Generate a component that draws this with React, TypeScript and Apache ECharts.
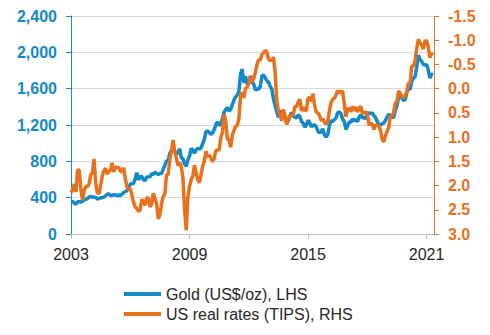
import React, { useEffect, useRef } from "react";
import * as echarts from "echarts";

// Monthly data, Jan 2003 .. May 2021
const startYear = 2003;
const goldUSDperOz: number[] = [
  // 2003
  357, 359, 341, 328, 356, 356, 351, 360, 379, 379, 390, 408,
  // 2004
  414, 405, 406, 404, 384, 392, 398, 400, 406, 420, 439, 442,
  // 2005
  424, 423, 434, 429, 422, 430, 424, 438, 456, 470, 476, 510,
  // 2006
  549, 555, 557, 610, 676, 596, 633, 632, 598, 585, 627, 629,
  // 2007
  631, 665, 655, 679, 667, 655, 665, 665, 712, 754, 806, 803,
  // 2008
  889, 922, 968, 909, 888, 889, 939, 839, 829, 770, 745, 816,
  // 2009
  858, 943, 924, 890, 928, 945, 934, 949, 996, 1043, 1127, 1134,
  // 2010
  1118, 1095, 1113, 1148, 1205, 1233, 1193, 1215, 1271, 1342, 1370, 1391,
  // 2011
  1356, 1372, 1424, 1474, 1510, 1529, 1572, 1760, 1815, 1665, 1739, 1652,
  // 2012
  1656, 1742, 1674, 1650, 1585, 1596, 1594, 1626, 1745, 1747, 1721, 1685,
  // 2013
  1671, 1627, 1593, 1485, 1414, 1343, 1286, 1347, 1349, 1316, 1275, 1225,
  // 2014
  1244, 1300, 1336, 1299, 1287, 1279, 1311, 1296, 1239, 1222, 1176, 1201,
  // 2015
  1251, 1227, 1179, 1198, 1199, 1181, 1131, 1117, 1125, 1159, 1086, 1068,
  // 2016
  1097, 1200, 1246, 1242, 1260, 1276, 1337, 1341, 1326, 1266, 1238, 1151,
  // 2017
  1192, 1234, 1231, 1266, 1246, 1260, 1236, 1283, 1314, 1280, 1282, 1265,
  // 2018
  1331, 1331, 1325, 1335, 1303, 1282, 1238, 1202, 1199, 1215, 1221, 1250,
  // 2019
  1291, 1320, 1300, 1285, 1284, 1359, 1413, 1500, 1510, 1495, 1471, 1480,
  // 2020
  1560, 1597, 1592, 1681, 1716, 1732, 1840, 1968, 1921, 1900, 1866, 1858,
  // 2021
  1867, 1808, 1715, 1760, 1755,
];

const usRealRatesTIPS: number[] = [
  // 2003
  2.15, 2.08, 1.97, 2.13, 1.68, 1.68, 2.07, 2.3, 2.1, 2.02, 2.02, 1.97,
  // 2004
  1.78, 1.73, 1.45, 1.94, 2.15, 2.17, 2.0, 1.8, 1.69, 1.64, 1.76, 1.72,
  // 2005
  1.68, 1.53, 1.72, 1.61, 1.63, 1.62, 1.71, 1.71, 1.63, 1.86, 2.03, 2.09,
  // 2006
  2.06, 2.2, 2.35, 2.44, 2.47, 2.53, 2.51, 2.29, 2.32, 2.41, 2.26, 2.25,
  // 2007
  2.44, 2.39, 2.16, 2.26, 2.37, 2.69, 2.6, 2.38, 2.23, 2.17, 1.78, 1.76,
  // 2008
  1.48, 1.29, 1.06, 1.29, 1.43, 1.59, 1.52, 1.61, 1.84, 2.5, 2.92, 2.24,
  // 2009
  2.01, 1.88, 1.8, 1.58, 1.73, 1.88, 1.94, 1.78, 1.6, 1.49, 1.29, 1.41,
  // 2010
  1.37, 1.43, 1.51, 1.44, 1.28, 1.27, 1.26, 1.02, 0.91, 0.53, 0.67, 1.04,
  // 2011
  1.06, 1.21, 0.96, 0.86, 0.78, 0.76, 0.62, 0.14, 0.08, 0.19, 0.0, -0.03,
  // 2012
  -0.11, -0.25, -0.14, -0.21, -0.34, -0.5, -0.6, -0.59, -0.71, -0.74, -0.79, -0.76,
  // 2013
  -0.61, -0.58, -0.59, -0.65, -0.34, 0.25, 0.46, 0.55, 0.66, 0.43, 0.55, 0.74,
  // 2014
  0.63, 0.55, 0.56, 0.54, 0.37, 0.37, 0.28, 0.22, 0.46, 0.38, 0.45, 0.44,
  // 2015
  0.2, 0.18, 0.26, 0.1, 0.35, 0.49, 0.5, 0.56, 0.66, 0.62, 0.7, 0.73,
  // 2016
  0.67, 0.45, 0.29, 0.21, 0.2, 0.13, 0.04, 0.09, 0.06, 0.05, 0.31, 0.58,
  // 2017
  0.43, 0.4, 0.48, 0.36, 0.45, 0.38, 0.48, 0.42, 0.36, 0.5, 0.5, 0.48,
  // 2018
  0.52, 0.75, 0.72, 0.73, 0.84, 0.76, 0.75, 0.77, 0.86, 1.04, 1.1, 0.98,
  // 2019
  0.88, 0.8, 0.58, 0.57, 0.49, 0.29, 0.27, 0.05, 0.1, 0.16, 0.18, 0.14,
  // 2020
  0.06, -0.12, -0.11, -0.47, -0.47, -0.57, -0.83, -1.02, -0.95, -0.9, -0.82, -0.98,
  // 2021
  -0.99, -0.87, -0.64, -0.72, -0.7,
];

const xTickMonths = [0, 72, 144, 216];
const leftTicks = [0, 400, 800, 1200, 1600, 2000, 2400];
const rightTicks = [-1.5, -1.0, -0.5, 0.0, 0.5, 1.0, 1.5, 2.0, 2.5, 3.0];

const seriesNames = ["Gold (US$/oz), LHS", "US real rates (TIPS), RHS"];
const BLUE = "#1289cb";
const ORANGE = "#e8711c";
const FONT = "'Liberation Sans', Arial, sans-serif";

export default function App() {
  const ref = useRef<HTMLDivElement>(null);
  useEffect(() => {
    if (!ref.current) return;
    const chart = echarts.init(ref.current, undefined, { renderer: "svg" });
    const goldData = goldUSDperOz.map((v, i) => [i, v]);
    const rateData = usRealRatesTIPS.map((v, i) => [i, v]);
    chart.setOption({
      animation: false,
      textStyle: { fontFamily: FONT },
      grid: { left: 71, right: 56, top: 16, bottom: 101, containLabel: false },
      legend: {
        orient: "vertical",
        left: 119,
        top: 281,
        itemWidth: 37,
        itemHeight: 4,
        itemGap: 4,
        icon: "rect",
        data: seriesNames,
        textStyle: { fontSize: 16, color: "#262626", fontFamily: FONT, lineHeight: 16 },
      },
      xAxis: {
        type: "value",
        min: 0,
        max: 220.5,
        interval: 72,
        axisLine: { onZero: false, lineStyle: { color: "#bfbfbf", width: 1 } },
        axisTick: { show: true, length: 5, lineStyle: { color: "#bfbfbf" }, customValues: xTickMonths },
        axisLabel: {
          customValues: xTickMonths,
          margin: 12,
          fontSize: 16,
          color: "#262626",
          fontFamily: FONT,
          formatter: (v: number) => String(startYear + Math.round(v / 12)),
        },
        splitLine: { show: false },
      },
      yAxis: [
        {
          type: "value",
          min: leftTicks[0],
          max: leftTicks[leftTicks.length - 1],
          interval: 400,
          position: "left",
          axisLine: { show: true, lineStyle: { color: BLUE, width: 1 } },
          axisTick: { show: true, length: 5, lineStyle: { color: BLUE } },
          axisLabel: {
            margin: 14,
            fontSize: 16,
            fontWeight: "bold",
            color: BLUE,
            fontFamily: FONT,
            formatter: (v: number) => v.toLocaleString("en-US"),
          },
          splitLine: { show: true, lineStyle: { color: "#d9d9d9", width: 1 } },
        },
        {
          type: "value",
          min: rightTicks[0],
          max: rightTicks[rightTicks.length - 1],
          interval: 0.5,
          inverse: true,
          position: "right",
          axisLine: { show: true, lineStyle: { color: ORANGE, width: 1 } },
          axisTick: { show: true, length: 5, lineStyle: { color: ORANGE } },
          axisLabel: {
            margin: 14,
            fontSize: 16,
            fontWeight: "bold",
            color: ORANGE,
            fontFamily: FONT,
            formatter: (v: number) => v.toFixed(1),
          },
          splitLine: { show: false },
        },
      ],
      series: [
        {
          name: seriesNames[0],
          type: "line",
          yAxisIndex: 0,
          data: goldData,
          showSymbol: false,
          symbol: "none",
          color: BLUE,
          lineStyle: { color: BLUE, width: 3.5 },
        },
        {
          name: seriesNames[1],
          type: "line",
          yAxisIndex: 1,
          data: rateData,
          showSymbol: false,
          symbol: "none",
          color: ORANGE,
          lineStyle: { color: ORANGE, width: 3.5 },
        },
      ],
    });
    return () => chart.dispose();
  }, []);
  return <div ref={ref} style={{ width: 490, height: 335, position: "absolute", left: 0, top: 0 }} />;
}
